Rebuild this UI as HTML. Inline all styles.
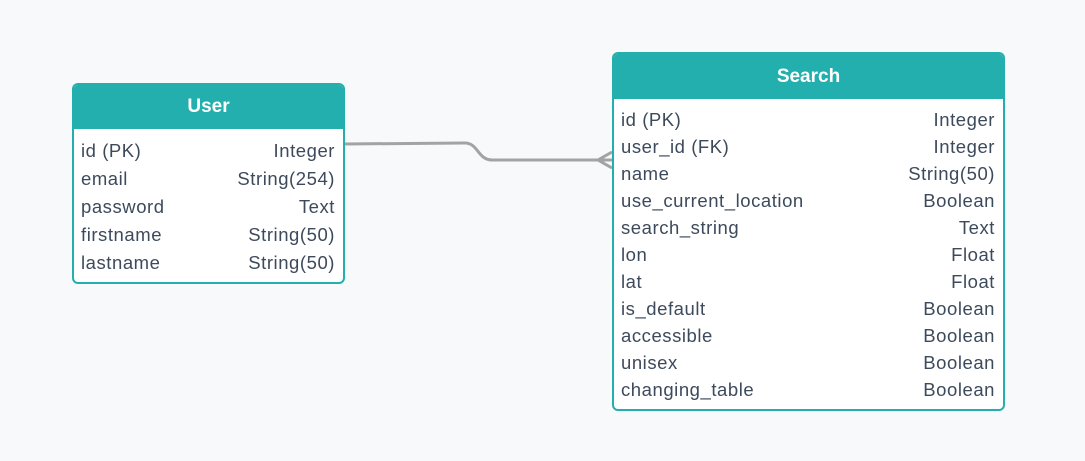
<!DOCTYPE html>
<html><head><style>
body{margin:0;width:1085px;height:461px;background:#f8f9fb;position:relative;overflow:hidden;font-family:"Liberation Sans",sans-serif;}
.t{position:absolute;border:2px solid #24afaf;border-radius:6px;background:#fff;box-sizing:border-box;overflow:hidden}
.h{background:#24afaf;color:#fff;font-size:19px;font-weight:bold;text-align:center;box-sizing:border-box}
.r{position:absolute;left:7px;right:8px;font-size:18.5px;letter-spacing:0.55px;color:#3d4a5c;display:flex;justify-content:space-between;line-height:20px}
</style></head><body>
<svg width="1085" height="461" style="position:absolute;left:0;top:0">
<path d="M344 144 L465 143 C478 143 478 160 492 160 L612 160" fill="none" stroke="#a3a3a3" stroke-width="3"/>
<path d="M612 152 L598 160 L612 168" fill="none" stroke="#a3a3a3" stroke-width="3"/>
</svg>
<div class="t" style="left:72px;top:83px;width:273px;height:201px">
<div class="h" style="height:44px;line-height:44px">User</div>
<div class="r" style="top:56px"><span>id (PK)</span><span>Integer</span></div>
<div class="r" style="top:84px"><span>email</span><span>String(254)</span></div>
<div class="r" style="top:112px"><span>password</span><span>Text</span></div>
<div class="r" style="top:140px"><span>firstname</span><span>String(50)</span></div>
<div class="r" style="top:168px"><span>lastname</span><span>String(50)</span></div>
</div>
<div class="t" style="left:612px;top:52px;width:393px;height:359px">
<div class="h" style="height:45px;line-height:46px">Search</div>
<div class="r" style="top:56px"><span>id (PK)</span><span>Integer</span></div>
<div class="r" style="top:83px"><span>user_id (FK)</span><span>Integer</span></div>
<div class="r" style="top:110px"><span>name</span><span>String(50)</span></div>
<div class="r" style="top:137px"><span>use_current_location</span><span>Boolean</span></div>
<div class="r" style="top:164px"><span>search_string</span><span>Text</span></div>
<div class="r" style="top:191px"><span>lon</span><span>Float</span></div>
<div class="r" style="top:218px"><span>lat</span><span>Float</span></div>
<div class="r" style="top:245px"><span>is_default</span><span>Boolean</span></div>
<div class="r" style="top:272px"><span>accessible</span><span>Boolean</span></div>
<div class="r" style="top:299px"><span>unisex</span><span>Boolean</span></div>
<div class="r" style="top:326px"><span>changing_table</span><span>Boolean</span></div>
</div>
</body></html>
